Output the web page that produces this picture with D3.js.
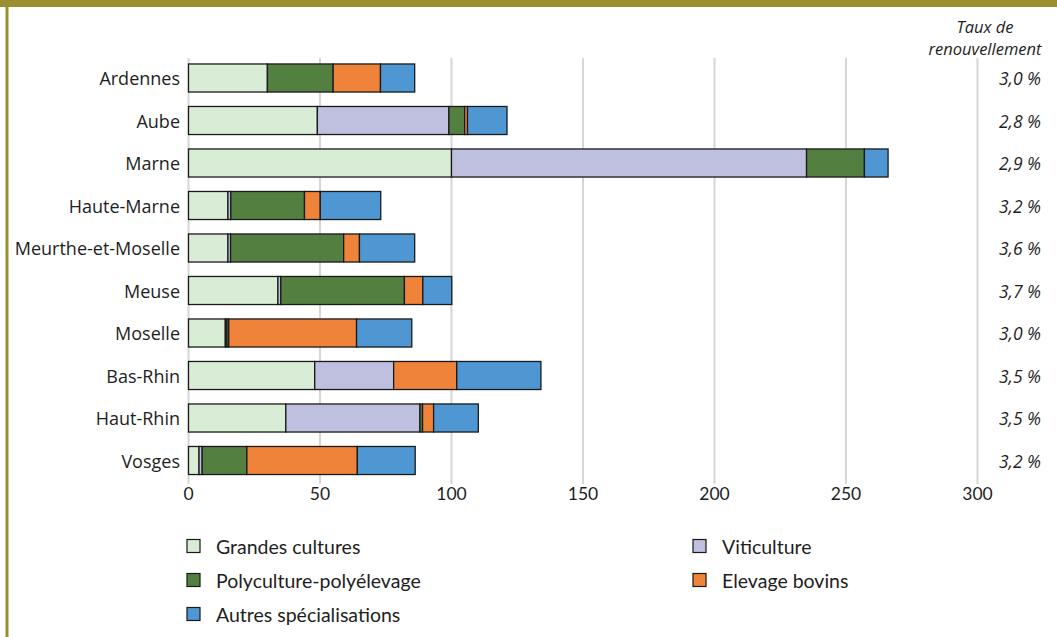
<!DOCTYPE html>
<html>
<head>
<meta charset="utf-8">
<script src="https://cdn.jsdelivr.net/npm/d3@7"></script>
<style>
  html, body { margin: 0; padding: 0; background: #fff; }
  svg { display: block; }
</style>
</head>
<body>
<svg id="chart" width="1057" height="637"></svg>
<script>
const departements = ["Ardennes", "Aube", "Marne", "Haute-Marne", "Meurthe-et-Moselle", "Meuse", "Moselle", "Bas-Rhin", "Haut-Rhin", "Vosges"];
const seriesNames = ["Grandes cultures", "Viticulture", "Polyculture-polyélevage", "Elevage bovins", "Autres spécialisations"];
const grandesCultures = [30, 49, 100, 15, 15, 34, 14, 48, 37, 4];
const viticulture = [0, 50, 135, 1.1, 1, 1.1, 0.6, 30, 51, 1.2];
const polyculture = [25, 6, 22, 28, 43, 47, 0.7, 0, 1, 17];
const elevageBovins = [18, 1.1, 0, 6, 6, 7, 48.6, 24, 4.2, 42];
const autres = [13, 15, 9, 23, 21, 11, 21, 32, 17, 22];
const tauxRenouvellement = ["3,0 %", "2,8 %", "2,9 %", "3,2 %", "3,6 %", "3,7 %", "3,0 %", "3,5 %", "3,5 %", "3,2 %"];
const xTicks = [0, 50, 100, 150, 200, 250, 300];
const colors = ["#d9ecd5", "#bfbfdf", "#538040", "#f0833a", "#4f97d3"];

const svg = d3.select("#chart");
const seriesValues = [grandesCultures, viticulture, polyculture, elevageBovins, autres];
const rows = departements.map((d, i) => {
  const r = { dep: d };
  seriesNames.forEach((s, j) => r[s] = seriesValues[j][i]);
  return r;
});

const x = d3.scaleLinear().domain([0, 300]).range([188.5, 977.5]);
const y = d3.scaleBand().domain(departements).range([56.75, 481.75]).paddingInner(0.34).paddingOuter(0.17);

// Frame
svg.append("rect").attr("x", 0).attr("y", 0).attr("width", 1057).attr("height", 7).attr("fill", "#9a8f2e");
svg.append("rect").attr("x", 5.5).attr("y", 0).attr("width", 3).attr("height", 637).attr("fill", "#9a8f2e");

// Grid
svg.append("g").selectAll("line").data(xTicks).join("line")
  .attr("x1", d => x(d)).attr("x2", d => x(d))
  .attr("y1", 58).attr("y2", 484)
  .attr("stroke", "#d6d6d6").attr("stroke-width", 2);

// Bars
const stack = d3.stack().keys(seriesNames)(rows);
svg.append("g").selectAll("g").data(stack).join("g")
  .attr("fill", (d, i) => colors[i])
  .selectAll("rect").data(d => d.filter(v => v[1] - v[0] > 0)).join("rect")
  .attr("x", d => x(d[0]))
  .attr("width", d => x(d[1]) - x(d[0]))
  .attr("y", d => y(d.data.dep))
  .attr("height", y.bandwidth())
  .attr("stroke", "#1a1a1a").attr("stroke-width", 1.3);

// Y labels
svg.append("g").selectAll("text").data(departements).join("text")
  .attr("x", 180).attr("y", d => y(d) + y.bandwidth() / 2)
  .attr("text-anchor", "end").attr("dominant-baseline", "central")
  .attr("font-family", "'Open Sans', sans-serif").attr("font-size", 18)
  .attr("fill", "#1e1e1e").text(d => d);

// X axis tick labels
svg.append("g").selectAll("text").data(xTicks).join("text")
  .attr("x", d => x(d)).attr("y", 493)
  .attr("text-anchor", "middle").attr("dominant-baseline", "central")
  .attr("font-family", "Lato, sans-serif").attr("font-size", 17.5)
  .attr("fill", "#1e1e1e").text(d => d);

// Right labels
svg.append("g").selectAll("text").data(departements).join("text")
  .attr("x", 1041).attr("y", (d) => y(d) + y.bandwidth() / 2)
  .attr("text-anchor", "end").attr("dominant-baseline", "central")
  .attr("font-family", "'Open Sans', sans-serif").attr("font-style", "italic").attr("font-size", 17.5)
  .attr("fill", "#1e1e1e").text((d, i) => tauxRenouvellement[i]);

const title = svg.append("text").attr("text-anchor", "middle")
  .attr("font-family", "'Open Sans', sans-serif").attr("font-style", "italic").attr("font-size", 16.5)
  .attr("fill", "#1e1e1e");
title.append("tspan").attr("x", 985).attr("y", 33).text("Taux de");
title.append("tspan").attr("x", 985).attr("y", 55).text("renouvellement");

// Legend
const legendPos = [[187, 546], [693, 546], [187, 580], [693, 580], [187, 614]];
const leg = svg.append("g").selectAll("g").data(seriesNames).join("g")
  .attr("transform", (d, i) => `translate(${legendPos[i][0]},${legendPos[i][1]})`);
leg.append("rect").attr("x", 0).attr("y", -6.5).attr("width", 13).attr("height", 13)
  .attr("fill", (d, i) => colors[i]).attr("stroke", "#1a1a1a").attr("stroke-width", 1.2);
leg.append("text").attr("x", 29).attr("y", 0).attr("dominant-baseline", "central")
  .attr("font-family", "Lato, sans-serif").attr("font-size", 19.5)
  .attr("fill", "#1e1e1e").text(d => d);
</script>
</body>
</html>
